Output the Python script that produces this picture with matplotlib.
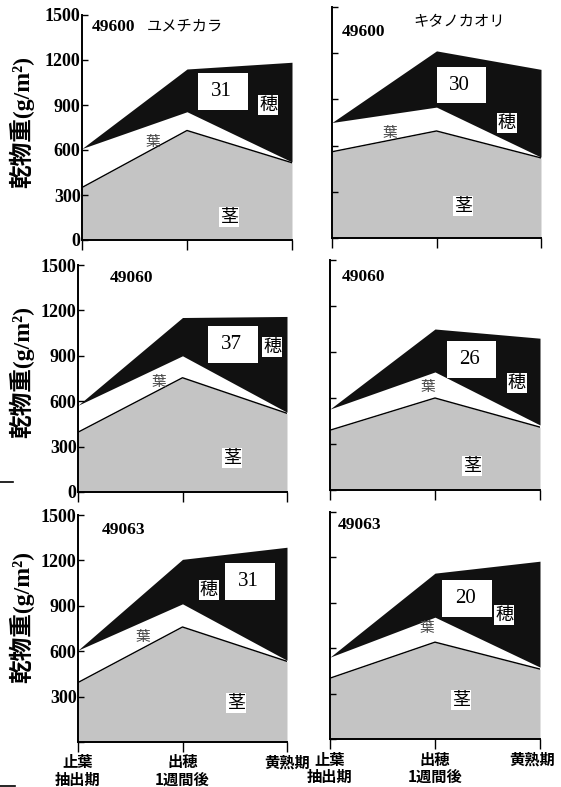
import numpy as np
import matplotlib.pyplot as plt
from matplotlib.patches import Rectangle
from matplotlib.lines import Line2D
from matplotlib.transforms import ScaledTranslation

# 生育ステージ
stages = ['止葉\n抽出期', '出穂\n1週間後', '黄熟期']
lines_no = ['49600', '49600', '49060', '49060', '49063', '49063']
cultivars = ['ユメチカラ', 'キタノカオリ', '', '', '', '']

# 乾物重 (g/m2)：茎・葉・穂 (左列ユメチカラ, 右列キタノカオリ)
stem = [[350, 730, 515], [560, 695, 520],
        [395, 755, 520], [390, 600, 410],
        [393, 760, 533], [402, 640, 462]]
leaf = [[260, 125, 5], [190, 155, 5],
        [178, 145, 7], [138, 170, 14],
        [214, 153, 7], [139, 165, 13]]
panicle = [[0, 285, 665], [0, 365, 570],
           [0, 253, 633], [0, 280, 566],
           [0, 294, 747], [0, 291, 700]]
box_numbers = [31, 30, 37, 26, 31, 20]

yticks = [0, 300, 600, 900, 1200, 1500]

# ---- レイアウト（ピクセル） ----
W, H = 561, 787
frames = [(82, 15, 292, 240), (332, 7, 541, 238),
          (78, 265, 287, 492), (330, 260, 540, 490),
          (78, 515, 287, 742), (330, 512, 540, 739)]
boxes = [(198, 73, 248, 110), (437, 67, 486, 103),
         (208, 326, 258, 363), (447, 341, 496, 378),
         (225, 563, 275, 600), (442, 580, 492, 617)]
pos_ho = [(268, 105), (507, 123), (272, 347), (517, 383), (209, 590), (504, 615)]
pos_ha = [(153, 142), (390, 133), (159, 382), (428, 387), (143, 637), (427, 628)]
pos_kuki = [(229, 217), (463, 206), (232, 458), (472, 466), (236, 703), (461, 700)]
pos_line = [(92, 27), (342, 32), (110, 278), (342, 277), (102, 530), (338, 525)]
pos_cult = [(147, 26), (413, 22), None, None, None, None]
ylabel_y = [122, 372, 617]

jp = ['Noto Sans CJK JP']
serif = 'Liberation Serif'


def fp(px, py):
    return px / W, 1 - py / H


fig = plt.figure(figsize=(W / 100, H / 100), dpi=100)

for i in range(6):
    x0, y0, x1, y1 = frames[i]
    ax = fig.add_axes([x0 / W, 1 - y1 / H, (x1 - x0) / W, (y1 - y0) / H])
    x = np.arange(3)
    s = np.array(stem[i])
    l = s + np.array(leaf[i])
    t = l + np.array(panicle[i])
    ax.fill_between(x, 0, s, color='#c4c4c4', lw=0)
    ax.fill_between(x, s, l, color='white', lw=0)
    ax.fill_between(x, l, t, color='#111111', lw=0)
    ax.plot(x, s, color='black', lw=1)
    ax.set_xlim(0, 2)
    ax.set_ylim(0, 1500)
    for side in ['top', 'right']:
        ax.spines[side].set_visible(False)
    for side in ['left', 'bottom']:
        ax.spines[side].set_linewidth(1.4)

    ax.set_yticks(yticks)
    ax.tick_params(axis='y', direction='in', length=4, width=1, pad=1)
    if i % 2 == 0:
        labs = [str(v) for v in yticks]
        if i == 4:
            labs[0] = ''
        ax.set_yticklabels(labs, fontfamily=serif, fontweight='bold', fontsize=13)
    else:
        ax.set_yticklabels([])

    ax.set_xticks(x)
    ax.tick_params(axis='x', direction='out', length=7, width=1, pad=2)
    if i >= 4:
        ax.set_xticklabels(stages, fontfamily=jp, fontweight='bold',
                           fontsize=11, linespacing=1.1)
        if i == 5:
            lab = ax.xaxis.get_major_ticks()[2].label1
            lab.set_transform(lab.get_transform() +
                              ScaledTranslation(-0.08, 0, fig.dpi_scale_trans))
    else:
        ax.set_xticklabels([])

    # 数値ボックス
    bx0, by0, bx1, by1 = boxes[i]
    ax.add_patch(Rectangle((bx0 / W, 1 - by1 / H), (bx1 - bx0) / W, (by1 - by0) / H,
                           transform=fig.transFigure, facecolor='white',
                           edgecolor='none', zorder=5, clip_on=False))
    fig.text(*fp((bx0 + bx1) / 2 - 2, (by0 + by1) / 2), str(box_numbers[i]),
             ha='center', va='center', fontfamily=serif, fontsize=15, zorder=6)

    fig.text(*fp(*pos_ho[i]), '穂', ha='center', va='center', fontfamily=jp,
             fontsize=13, zorder=6,
             bbox=dict(facecolor='white', edgecolor='none', pad=1))
    fig.text(*fp(*pos_ha[i]), '葉', ha='center', va='center', fontfamily=jp,
             fontsize=10.5, color='#444444', zorder=6)
    fig.text(*fp(*pos_kuki[i]), '茎', ha='center', va='center', fontfamily=jp,
             fontsize=13, zorder=6,
             bbox=dict(facecolor='white', edgecolor='none', pad=1))

    fig.text(*fp(*pos_line[i]), lines_no[i], ha='left', va='center',
             fontfamily=serif, fontweight='bold', fontsize=12.5)
    if pos_cult[i] is not None:
        fig.text(*fp(*pos_cult[i]), cultivars[i], ha='left', va='center',
                 fontfamily=jp, fontsize=11)

for yy in ylabel_y:
    fig.text(*fp(22, yy), '乾物重(g/m²)', rotation=90, ha='center', va='center',
             fontfamily=[serif, 'Noto Sans CJK JP'], fontweight='bold', fontsize=17)

# 左端の小さな線
for py, px1 in [(482, 13), (786, 15)]:
    fig.add_artist(Line2D([0, px1 / W], [1 - py / H] * 2, color='black', lw=1.2))

fig.savefig('out.png', dpi=100)
